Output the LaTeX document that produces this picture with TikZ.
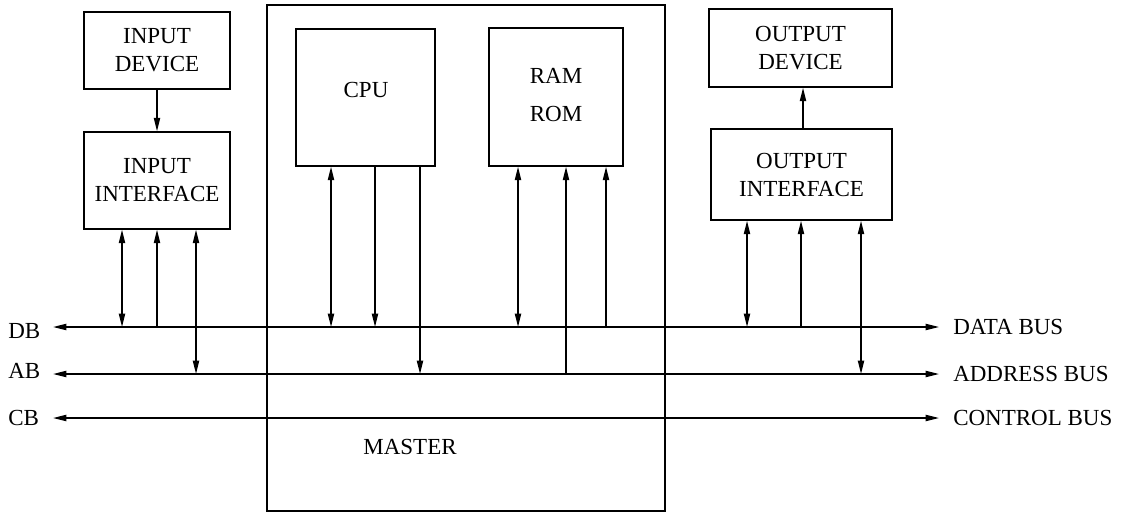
\documentclass[tikz,border=0pt]{standalone}
\usepackage{fontspec}
\setmainfont{Liberation Serif}
\usetikzlibrary{arrows.meta}
\newcommand{\diagfont}{\fontsize{17.25}{21}\selectfont}
\begin{document}
\begin{tikzpicture}[x=0.75pt,y=-0.75pt,
  tip/.tip={Triangle[length=10pt,width=4.6pt]},
  box/.style={draw, line width=1.1pt, inner sep=0pt, align=center, font=\diagfont},
  txt/.style={font=\diagfont, inner sep=0pt, align=center},
  wire/.style={line width=1.1pt},
  arrboth/.style={wire, tip-tip},
  arrend/.style={wire, -tip},
  arrstart/.style={wire, tip-},
]
\useasboundingbox (0,0) rectangle (1123,513);

% master frame
\node[box, minimum width=298.5pt, minimum height=379.5pt] (master) at (466,258) {};
\node[txt] (mastertxt) at (410,447) {MASTER};

% boxes
\node[box, minimum width=109.5pt, minimum height=57.75pt] (indev) at (157,50.5) {INPUT\\DEVICE};
\node[box, minimum width=109.5pt, minimum height=72.75pt] (inif) at (157,180.5) {INPUT\\INTERFACE};
\node[box, minimum width=104.25pt, minimum height=102.75pt] (cpu) at (365.5,97.5) {};
\node[txt] (cputxt) at (366,90) {CPU};
\node[box, minimum width=100.5pt, minimum height=103.5pt] (ram) at (556,97) {};
\node[txt] (ramtxt) at (556,76) {RAM};
\node[txt] (romtxt) at (556,114) {ROM};
\node[box, minimum width=137.25pt, minimum height=58.5pt] (outdev) at (800.5,48) {OUTPUT\\DEVICE};
\node[box, minimum width=135.75pt, minimum height=68.25pt] (outif) at (801.5,174.5) {OUTPUT\\INTERFACE};

% bus end points
\coordinate (dbL) at (53,327);  \coordinate (dbR) at (939,327);
\coordinate (abL) at (53,374);  \coordinate (abR) at (939,374);
\coordinate (cbL) at (53,418);  \coordinate (cbR) at (939,418);

\draw[arrboth] (dbL) -- (dbR);
\draw[arrboth] (abL) -- (abR);
\draw[arrboth] (cbL) -- (cbR);

% bus labels
\node[txt, anchor=base west] (dblbl) at (8,338) {DB};
\node[txt, anchor=base west] (ablbl) at (8,378) {AB};
\node[txt, anchor=base west] (cblbl) at (8,425) {CB};
\node[txt, anchor=base west] (dataname) at (953,334) {DATA BUS};
\node[txt, anchor=base west] (addrname) at (953,381) {ADDRESS BUS};
\node[txt, anchor=base west] (ctrlname) at (953,425) {CONTROL BUS};

% taps on the buses
\coordinate (i1) at (122,327);
\coordinate (i2) at (157,327);
\coordinate (i3) at (196,374);
\coordinate (c1) at (331,327);
\coordinate (c2) at (375,327);
\coordinate (c3) at (420,374);
\coordinate (r1) at (518,327);
\coordinate (r2) at (566,374);
\coordinate (r3) at (606,327);
\coordinate (o1) at (747,327);
\coordinate (o2) at (801,327);
\coordinate (o3) at (861,374);
\coordinate (oup) at (803,220);

% device to interface links
\draw[arrend] (indev.south) -- (inif.north);
\draw[arrend] (outif.north -| oup) -- (outdev.south -| oup);

% input interface
\draw[arrboth] (inif.south -| i1) -- (i1);
\draw[arrstart] (inif.south -| i2) -- (i2);
\draw[arrboth] (inif.south -| i3) -- (i3);

% cpu
\draw[arrboth] (cpu.south -| c1) -- (c1);
\draw[arrend] (cpu.south -| c2) -- (c2);
\draw[arrend] (cpu.south -| c3) -- (c3);

% ram/rom
\draw[arrboth] (ram.south -| r1) -- (r1);
\draw[arrstart] (ram.south -| r2) -- (r2);
\draw[arrstart] (ram.south -| r3) -- (r3);

% output interface
\draw[arrboth] (outif.south -| o1) -- (o1);
\draw[arrstart] (outif.south -| o2) -- (o2);
\draw[arrboth] (outif.south -| o3) -- (o3);
\end{tikzpicture}
\end{document}
